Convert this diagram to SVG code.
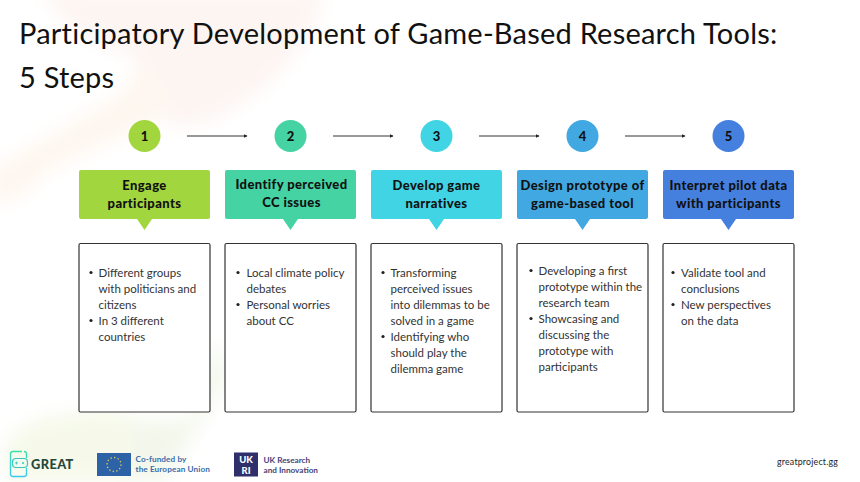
<svg xmlns="http://www.w3.org/2000/svg" width="860" height="482" viewBox="0 0 860 482">
<style>
text{font-family:"Lato","Liberation Sans",sans-serif;fill:#1a1a1a}
.title{font-size:29px;letter-spacing:.22px;fill:#111}
.num{font-size:13px;font-weight:900;text-anchor:middle;fill:#111}
.head{font-size:13px;font-weight:900;text-anchor:middle;letter-spacing:.4px;fill:#111}
.body{font-size:11.5px;fill:#333}
.box{fill:#fff;stroke:#333;stroke-width:1.2}
.bul{fill:#222}
.conn{stroke:#333;stroke-width:1;fill:none;marker-end:url(#ah)}
</style>
<defs>
<marker id="ah" markerWidth="5" markerHeight="5" refX="3.5" refY="2" orient="auto" markerUnits="userSpaceOnUse"><path d="M0 0L4 2L0 4Z" fill="#222"/></marker>
<filter id="bl" x="-30%" y="-30%" width="160%" height="160%"><feGaussianBlur stdDeviation="9"/></filter>
<linearGradient id="ph" x1="0" y1="0" x2="0" y2="1"><stop offset="0" stop-color="#3be0a8"/><stop offset="1" stop-color="#38c8f0"/></linearGradient>
</defs>
<rect width="860" height="482" fill="#fff"/>
<g filter="url(#bl)">
<path d="M40 -10H325Q310 60 235 108Q195 132 170 125Q150 90 135 55Q70 40 40 -10Z" fill="#fdf5f2"/>
<path d="M132 50Q145 75 110 100L-10 170V205Q20 205 50 170L170 115Z" fill="#fef7f0"/>
<path d="M5 482V445Q30 405 130 412V482Z" fill="#f6f9ea"/>
<path d="M130 420H190L215 340L228 375L165 482H130Z" fill="#f3f7eb"/>
</g>
<text class="title" x="19" y="44">Participatory Development of Game-Based Research Tools:</text>
<text class="title" x="19" y="88">5 Steps</text>
<g id="connectors">
<path class="conn" d="M187 136H247"/><path class="conn" d="M333 136H393"/><path class="conn" d="M479 136H539"/><path class="conn" d="M625 136H685"/>
</g>
<g id="step1"><circle cx="144.500" cy="136" r="16" fill="#a2d63f"/><text class="num" x="144.500" y="140.500">1</text>
<path d="M81 170H208a2 2 0 0 1 2 2V217a2 2 0 0 1-2 2H152L144.500 230L137 219H81a2 2 0 0 1-2-2V172a2 2 0 0 1 2-2Z" fill="#a2d63f"/>
<text class="head" x="144.500" y="190">Engage</text><text class="head" x="144.500" y="208">participants</text>
<rect class="box" x="79" y="243.500" width="131" height="168.500" rx="1.500"/>
<circle class="bul" cx="91" cy="272.500" r="1.600"/><circle class="bul" cx="91" cy="320.500" r="1.600"/>
<text class="body" x="98.500" y="276.500">Different groups</text><text class="body" x="98.500" y="292.500">with politicians and</text><text class="body" x="98.500" y="308.500">citizens</text><text class="body" x="98.500" y="324.500">In 3 different</text><text class="body" x="98.500" y="340.500">countries</text></g>
<g id="step2"><circle cx="290.500" cy="136" r="16" fill="#45d3a4"/><text class="num" x="290.500" y="140.500">2</text>
<path d="M227 170H354a2 2 0 0 1 2 2V217a2 2 0 0 1-2 2H298L290.500 230L283 219H227a2 2 0 0 1-2-2V172a2 2 0 0 1 2-2Z" fill="#45d3a4"/>
<text class="head" x="291.500" y="189">Identify perceived</text><text class="head" x="291.500" y="207">CC issues</text>
<rect class="box" x="225" y="243.500" width="131" height="168.500" rx="1.500"/>
<circle class="bul" cx="238" cy="272.500" r="1.600"/><circle class="bul" cx="238" cy="304.500" r="1.600"/>
<text class="body" x="246.500" y="276.500">Local climate policy</text><text class="body" x="246.500" y="292.500">debates</text><text class="body" x="246.500" y="308.500">Personal worries</text><text class="body" x="246.500" y="324.500">about CC</text></g>
<g id="step3"><circle cx="436.500" cy="136" r="16" fill="#40d4e4"/><text class="num" x="436.500" y="140.500">3</text>
<path d="M373 170H500a2 2 0 0 1 2 2V217a2 2 0 0 1-2 2H444L436.500 230L429 219H373a2 2 0 0 1-2-2V172a2 2 0 0 1 2-2Z" fill="#40d4e4"/>
<text class="head" x="436.500" y="190">Develop game</text><text class="head" x="436.500" y="208">narratives</text>
<rect class="box" x="371" y="243.500" width="131" height="168.500" rx="1.500"/>
<circle class="bul" cx="383" cy="272.500" r="1.600"/><circle class="bul" cx="383" cy="336.500" r="1.600"/>
<text class="body" x="390.500" y="276.500">Transforming</text><text class="body" x="390.500" y="292.500">perceived issues</text><text class="body" x="390.500" y="308.500">into dilemmas to be</text><text class="body" x="390.500" y="324.500">solved in a game</text><text class="body" x="390.500" y="340.500">Identifying who</text><text class="body" x="390.500" y="356.500">should play the</text><text class="body" x="390.500" y="372.500">dilemma game</text></g>
<g id="step4"><circle cx="582.500" cy="136" r="16" fill="#41a8e2"/><text class="num" x="582.500" y="140.500">4</text>
<path d="M519 170H646a2 2 0 0 1 2 2V217a2 2 0 0 1-2 2H590L582.500 230L575 219H519a2 2 0 0 1-2-2V172a2 2 0 0 1 2-2Z" fill="#41a8e2"/>
<text class="head" x="582.500" y="190">Design prototype of</text><text class="head" x="582.500" y="208">game-based tool</text>
<rect class="box" x="517" y="243.500" width="131" height="168.500" rx="1.500"/>
<circle class="bul" cx="531" cy="270.500" r="1.600"/><circle class="bul" cx="531" cy="318.500" r="1.600"/>
<text class="body" x="538.500" y="275">Developing a first</text><text class="body" x="538.500" y="291">prototype within the</text><text class="body" x="538.500" y="307">research team</text><text class="body" x="538.500" y="323">Showcasing and</text><text class="body" x="538.500" y="339">discussing the</text><text class="body" x="538.500" y="355">prototype with</text><text class="body" x="538.500" y="371">participants</text></g>
<g id="step5"><circle cx="728.500" cy="136" r="16" fill="#4680de"/><text class="num" x="728.500" y="140.500">5</text>
<path d="M665 170H792a2 2 0 0 1 2 2V217a2 2 0 0 1-2 2H736L728.500 230L721 219H665a2 2 0 0 1-2-2V172a2 2 0 0 1 2-2Z" fill="#4680de"/>
<text class="head" x="728.500" y="190">Interpret pilot data</text><text class="head" x="728.500" y="208">with participants</text>
<rect class="box" x="663" y="243.500" width="131" height="168.500" rx="1.500"/>
<circle class="bul" cx="673" cy="272.500" r="1.600"/><circle class="bul" cx="673" cy="304.500" r="1.600"/>
<text class="body" x="681" y="276.500">Validate tool and</text><text class="body" x="681" y="292.500">conclusions</text><text class="body" x="681" y="308.500">New perspectives</text><text class="body" x="681" y="324.500">on the data</text></g>
<g id="logos">
<path d="M22 451.500H13a2.500 2.500 0 0 0-2.500 2.500V474a2.500 2.500 0 0 0 2.500 2.500H24a2.500 2.500 0 0 0 2.500-2.500V468M26.500 458V454a2.500 2.500 0 0 0-2.500-2.500" fill="none" stroke="url(#ph)" stroke-width="1.300"/>
<rect x="12.500" y="458.500" width="15" height="9" rx="3.500" fill="#f2f9ee" stroke="#35c8c0" stroke-width="1.200"/>
<path d="M15 463H18M16.500 461.500V464.500" stroke="#35c8c0" stroke-width=".8"/>
<circle cx="23" cy="463" r="1" fill="#35c8c0"/>
<text x="31" y="468.500" style="font-size:12.800px;font-weight:900;letter-spacing:.4px;fill:#24483c">GREAT</text>
<rect x="97" y="453" width="34" height="23" fill="#2e62a6"/>
<circle cx="114" cy="464.500" r="7" fill="none" stroke="#e8d24a" stroke-width="1.300" stroke-dasharray="1.300 2.350"/>
<text x="135.500" y="462" style="font-size:8.200px;font-weight:700;letter-spacing:.1px;fill:#3a6cab">Co-funded by</text>
<text x="135.500" y="472" style="font-size:8.200px;font-weight:700;letter-spacing:.1px;fill:#3a6cab">the European Union</text>
<rect x="234" y="452.500" width="24" height="24" fill="#2e2f6b"/>
<text x="246" y="463" style="font-size:9.500px;font-weight:900;fill:#fff;text-anchor:middle">UK</text>
<text x="246" y="474" style="font-size:9.500px;font-weight:900;fill:#fff;text-anchor:middle">RI</text>
<text x="263.500" y="463" style="font-size:8.200px;font-weight:700;fill:#44447a">UK Research</text>
<text x="263.500" y="472.500" style="font-size:8.200px;font-weight:700;fill:#44447a">and Innovation</text>
</g>
<text x="838" y="465" style="font-size:8.800px;letter-spacing:.2px;text-anchor:end;fill:#222">greatproject.gg</text>
</svg>
